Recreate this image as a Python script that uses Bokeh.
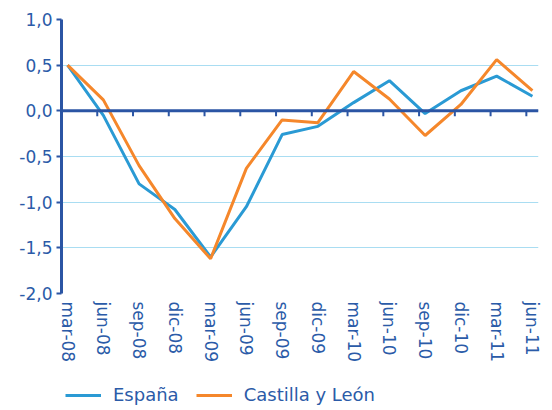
import numpy as np
from bokeh.plotting import figure
from bokeh.layouts import column
from bokeh.models import Span, Legend, LegendItem, FixedTicker
from bokeh.embed import file_html
from bokeh.resources import INLINE

x_labels = ["mar-08", "jun-08", "sep-08", "dic-08", "mar-09", "jun-09", "sep-09",
            "dic-09", "mar-10", "jun-10", "sep-10", "dic-10", "mar-11", "jun-11"]
espana = [0.50, -0.05, -0.80, -1.08, -1.60, -1.05, -0.26, -0.17, 0.09, 0.33, -0.03, 0.22, 0.38, 0.16]
castilla = [0.50, 0.12, -0.60, -1.18, -1.62, -0.63, -0.10, -0.13, 0.43, 0.13, -0.27, 0.07, 0.56, 0.22]
y_ticks = [-2.0, -1.5, -1.0, -0.5, 0.0, 0.5, 1.0]
y_tick_labels = ["-2,0", "-1,5", "-1,0", "-0,5", "0,0", "0,5", "1,0"]
series_names = ["España", "Castilla y León"]

FONT = "DejaVu Sans"
TXT = "#2B5BA8"
AX = "#2B55A4"
GRID = "#A9DDF2"
BLUE = "#2A9AD4"
ORANGE = "#F5872B"

xs = list(range(len(x_labels)))

p = figure(width=544, height=375, output_backend="svg", toolbar_location=None,
           x_range=(-0.17, len(x_labels) - 1 + 0.17), y_range=(-2.0, 1.0),
           min_border_left=61, min_border_right=6, min_border_top=19, min_border_bottom=82)
p.outline_line_color = None
p.background_fill_color = "white"
p.border_fill_color = "white"

# grid
p.xgrid.grid_line_color = None
p.ygrid.grid_line_color = GRID
p.ygrid.grid_line_width = 1.2
p.ygrid.ticker = FixedTicker(ticks=y_ticks)

# y axis
p.yaxis.ticker = FixedTicker(ticks=y_ticks)
p.yaxis.major_label_overrides = {t: l for t, l in zip(y_ticks, y_tick_labels)}
p.yaxis.axis_line_color = AX
p.yaxis.axis_line_width = 3
p.yaxis.major_tick_line_color = AX
p.yaxis.major_tick_line_width = 2
p.yaxis.major_tick_out = 5
p.yaxis.major_tick_in = 0
p.yaxis.minor_tick_line_color = None
p.yaxis.major_label_text_font = FONT
p.yaxis.major_label_text_font_size = "17px"
p.yaxis.major_label_text_color = TXT
p.yaxis.major_label_standoff = 4

# x axis (labels only)
p.xaxis.ticker = FixedTicker(ticks=xs)
p.xaxis.major_label_overrides = {i: l for i, l in enumerate(x_labels)}
p.xaxis.axis_line_color = None
p.xaxis.major_tick_line_color = None
p.xaxis.minor_tick_line_color = None
p.xaxis.major_tick_out = 0
p.xaxis.major_tick_in = 0
p.xaxis.major_label_orientation = "vertical"
p.xaxis.major_label_text_font = FONT
p.xaxis.major_label_text_font_size = "17px"
p.xaxis.major_label_text_color = TXT
p.xaxis.major_label_standoff = 8

# zero line with ticks
p.add_layout(Span(location=0, dimension="width", line_color=AX, line_width=3))
tick_x = [i - 0.17 for i in xs[1:]]
p.segment(x0=tick_x, y0=[0] * len(tick_x), x1=tick_x, y1=[-0.06] * len(tick_x),
          line_color=AX, line_width=2)

p.line(xs, espana, line_color=BLUE, line_width=3)
p.line(xs, castilla, line_color=ORANGE, line_width=3)

# legend strip below the chart (its lines lie outside the visible range)
lg = figure(width=544, height=35, output_backend="svg", toolbar_location=None,
            x_range=(0, 1), y_range=(0, 1), x_axis_type=None, y_axis_type=None,
            min_border=0)
lg.outline_line_color = None
lg.xgrid.grid_line_color = None
lg.ygrid.grid_line_color = None
d1 = lg.line(x=[5, 6], y=[5, 5], line_color=BLUE, line_width=3)
d2 = lg.line(x=[5, 6], y=[5, 5], line_color=ORANGE, line_width=3)
legend = Legend(items=[LegendItem(label=series_names[0], renderers=[d1]),
                       LegendItem(label=series_names[1], renderers=[d2])],
                orientation="horizontal", location=(4, 5),
                padding=0, margin=0, spacing=17, label_standoff=12,
                glyph_width=36, glyph_height=20, label_height=20,
                label_text_font=FONT, label_text_font_size="18px",
                label_text_color=TXT, border_line_color=None,
                background_fill_alpha=0)
lg.add_layout(legend, "center")

open("out.html", "w").write(file_html(column(p, lg), INLINE))
